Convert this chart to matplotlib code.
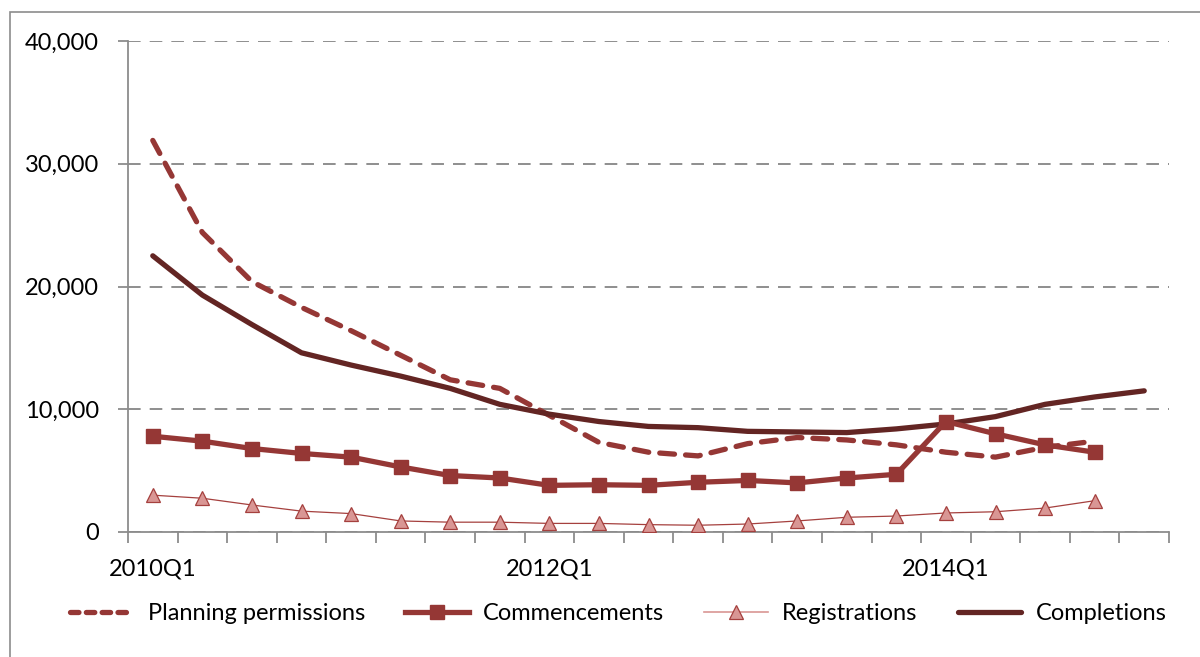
import matplotlib
matplotlib.use("Agg")
import matplotlib.pyplot as plt
from matplotlib.lines import Line2D
from matplotlib.patches import Rectangle
from matplotlib.ticker import FuncFormatter, MultipleLocator

plt.rcParams['font.family'] = ['Lato', 'DejaVu Sans']

quarters = [f"{y}Q{q}" for y in range(2010, 2016) for q in range(1, 5)][:21]

planning = [31900, 24400, 20400, 18300, 16400, 14400, 12400, 11700, 9500, 7300,
            6500, 6200, 7200, 7700, 7500, 7100, 6500, 6100, 6900, 7400]
commencements = [7800, 7400, 6800, 6400, 6100, 5300, 4600, 4400, 3800, 3850,
                 3800, 4050, 4200, 4000, 4400, 4700, 9000, 8000, 7100, 6500]
registrations = [3000, 2750, 2200, 1700, 1500, 900, 800, 800, 700, 700,
                 600, 550, 650, 900, 1200, 1300, 1550, 1650, 1950, 2550]
completions = [22500, 19300, 16900, 14600, 13600, 12700, 11700, 10400, 9600, 9000,
               8600, 8500, 8200, 8150, 8100, 8400, 8800, 9400, 10400, 11000, 11500]

c_plan = '#953735'
c_comm = '#953735'
c_reg_line = '#A5403E'
c_reg_face = '#D99694'
c_comp = '#632523'

W, H = 1200, 657
fig = plt.figure(figsize=(W / 100, H / 100), dpi=100)

# chart-area frame
fig.patches.append(Rectangle((10 / W, -0.05), 1.2, 1 - 12 / H + 0.05,
                             transform=fig.transFigure, fill=False,
                             edgecolor='#8c8c8c', linewidth=1.2))

ax = fig.add_axes([128 / W, (H - 532) / H, (1169 - 128) / W, (532 - 41) / H])

x_all = list(range(len(quarters)))
x20 = x_all[:len(planning)]

ax.plot(x20, planning, color=c_plan, lw=3.8, ls=(0, (2.8, 2.1)),
        dash_capstyle='round', solid_capstyle='round', zorder=3)
ax.plot(x20, commencements, color=c_comm, lw=3.8, marker='s', markersize=10.5,
        markerfacecolor=c_comm, markeredgecolor=c_comm, zorder=4)
ax.plot(x20, registrations, color=c_reg_line, lw=0.9, marker='^', markersize=10,
        markerfacecolor=c_reg_face, markeredgecolor=c_reg_line,
        markeredgewidth=0.9, zorder=5)
ax.plot(x_all, completions, color=c_comp, lw=3.8, solid_capstyle='round', zorder=3)

ax.set_xlim(-0.5, len(quarters) - 0.5)
ax.set_ylim(0, 40000)
ax.yaxis.set_major_locator(MultipleLocator(10000))
ax.yaxis.set_major_formatter(FuncFormatter(lambda v, p: f"{int(v):,}"))
ax.grid(axis='y', color='#868686', ls=(0, (7, 5)), lw=1.3)
ax.set_axisbelow(True)

# category ticks between quarters, labels every eighth quarter
ax.set_xticks([i - 0.5 for i in range(len(quarters) + 1)], minor=False)
ax.set_xticklabels([])
ax.set_xticks([0, 8, 16], minor=True)
ax.set_xticklabels([quarters[0], quarters[8], quarters[16]], minor=True)
ax.tick_params(axis='x', which='major', length=8, width=1.3, color='#8c8c8c',
               direction='out')
ax.tick_params(axis='x', which='minor', length=0, pad=19, labelsize=17)
ax.tick_params(axis='y', length=7, width=1.3, color='#8c8c8c', labelsize=17, pad=14)

for side in ['top', 'right']:
    ax.spines[side].set_visible(False)
for side in ['left', 'bottom']:
    ax.spines[side].set_color('#8c8c8c')
    ax.spines[side].set_linewidth(1.3)

handles = [
    Line2D([], [], color=c_plan, lw=3.8, ls=(0, (1.6, 1.4)), dash_capstyle='round'),
    Line2D([], [], color=c_comm, lw=3.8, marker='s', markersize=10.5),
    Line2D([], [], color=c_reg_face, lw=1.2, marker='^', markersize=10,
           markerfacecolor=c_reg_face, markeredgecolor=c_reg_line, markeredgewidth=0.9),
    Line2D([], [], color=c_comp, lw=3.8, solid_capstyle='round'),
]
labels = ['Planning permissions', 'Commencements', 'Registrations', 'Completions']
fig.legend(handles, labels, loc='center', bbox_to_anchor=(618 / W, 1 - 614 / H),
           ncol=4, frameon=False, fontsize=17, handlelength=2.7,
           handletextpad=0.6, columnspacing=1.7)

fig.savefig('out.png', dpi=100)
